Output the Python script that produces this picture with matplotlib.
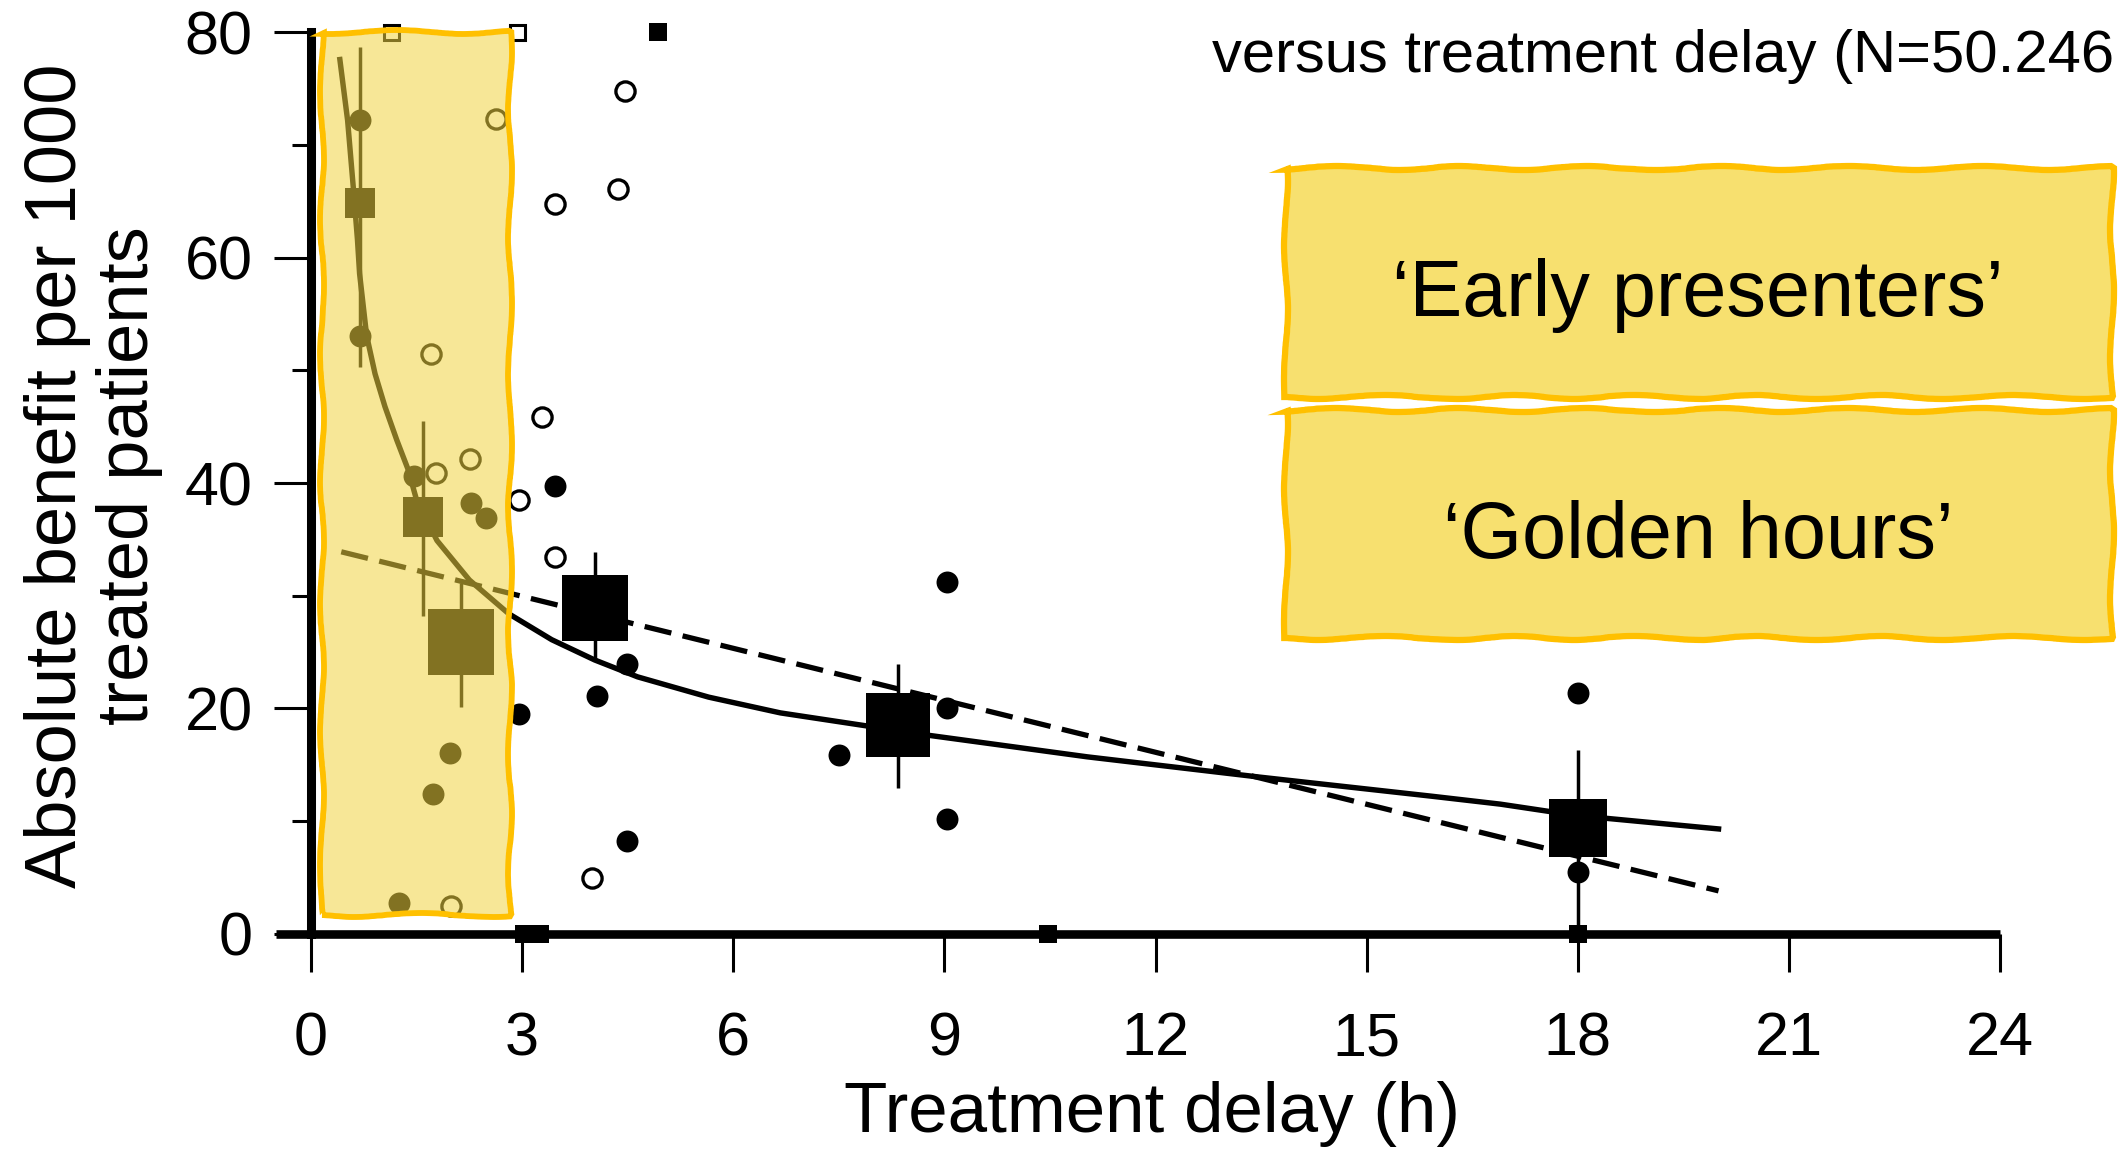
import matplotlib
matplotlib.use('Agg')
import matplotlib.pyplot as plt
from matplotlib.patches import Rectangle

# ---- values ----
# pooled estimate per delay group (big squares) with their bars
grp_delay = [0.69, 1.59, 2.13, 4.04, 8.34, 18.0]
grp_benefit = [64.9, 37.0, 25.9, 28.9, 18.5, 9.4]
grp_low = [50.3, 28.2, 20.1, 24.2, 12.9, 0.0]
grp_high = [78.7, 45.5, 31.1, 33.9, 23.9, 16.3]

# single trials, filled circles
filled_delay = [0.69, 0.69, 1.46, 2.27, 2.48, 1.98, 1.74, 1.25, 2.96, 3.46,
                4.06, 4.49, 4.49, 7.50, 9.03, 9.03, 9.03, 18.0, 18.0]
filled_benefit = [72.2, 53.1, 40.6, 38.2, 36.9, 16.0, 12.4, 2.7, 19.5, 39.7,
                  21.1, 23.9, 8.2, 15.9, 31.2, 20.0, 10.2, 21.4, 5.5]

# single trials, open circles
open_delay = [2.63, 1.71, 1.78, 2.26, 1.99, 3.46, 4.36, 4.46, 3.28, 2.96, 3.47, 3.99]
open_benefit = [72.3, 51.5, 40.9, 42.1, 2.5, 64.8, 66.1, 74.8, 45.9, 38.5, 33.4, 4.9]

# off-scale trials, small squares on the top and bottom edge
top_open_delay = [1.13, 2.93]
top_open_benefit = [80, 80]
top_filled_delay = [4.93]
top_filled_benefit = [80]
bottom_delay = [3.02, 3.25, 10.47, 18.0]
bottom_benefit = [0, 0, 0, 0]

# fitted curve (solid) and straight regression line (dashed)
fit_delay = [0.41, 0.52, 0.60, 0.66, 0.69, 0.79, 0.91, 1.05, 1.22, 1.38, 1.50,
             1.79, 2.25, 2.81, 3.42, 4.03, 4.64, 5.65, 6.67, 8.79, 11.03,
             13.48, 15.93, 16.90, 17.97, 20.0]
fit_benefit = [77.6, 72.2, 66.3, 61.6, 58.6, 53.1, 49.7, 46.8, 43.8, 41.2, 38.5,
               34.9, 31.4, 28.4, 26.1, 24.3, 22.8, 21.0, 19.6, 17.6, 15.7,
               13.9, 12.2, 11.5, 10.5, 9.3]
line_delay = [0.43, 20.0]
line_benefit = [33.9, 3.8]

x_ticks = [0, 3, 6, 9, 12, 15, 18, 21, 24]
y_ticks = [0, 20, 40, 60, 80]
y_minor = [10, 30, 50, 70]

# no narrow face is installed, so the condensed captions use Liberation Sans
# at a size that gives about the same width
plt.rcParams['font.family'] = ['Liberation Sans', 'DejaVu Sans']

fig = plt.figure(figsize=(21.25, 11.52), dpi=100)
ax = fig.add_axes([0.1298, 0.1895, 0.8114, 0.7823])

# fitted lines
ax.plot(fit_delay, fit_benefit, color='black', lw=3.9, zorder=2, clip_on=False)
ax.plot(line_delay, line_benefit, color='black', lw=3.8, ls=(0, (5.2, 2.2)), zorder=2, clip_on=False)

# error bars + group squares (size grows with group weight)
ax.vlines(grp_delay, grp_low, grp_high, color='black', lw=2.5, zorder=2, clip_on=False)
grp_side = [21, 29.5, 47, 47, 46, 42]
for x, y, s in zip(grp_delay, grp_benefit, grp_side):
    ax.plot(x, y, 's', color='black', ms=s, mew=0, zorder=4, clip_on=False)

# trials
ax.plot(filled_delay, filled_benefit, 'o', color='black', ms=15.8, mew=0, zorder=3, clip_on=False)
ax.plot(open_delay, open_benefit, 'o', mfc='none', mec='black', ms=13.8, mew=2.4, zorder=3, clip_on=False)
ax.plot(top_open_delay, top_open_benefit, 's', mfc='white', mec='black', ms=10.8, mew=2.2, zorder=3, clip_on=False)
ax.plot(top_filled_delay, top_filled_benefit, 's', color='black', ms=13, mew=0, zorder=3, clip_on=False)
ax.plot(bottom_delay, bottom_benefit, 's', color='black', ms=13, mew=0, zorder=3, clip_on=False)

# axes styling
ax.set_xlim(-0.5, 24)
ax.set_ylim(0, 80)
for side in ['top', 'right']:
    ax.spines[side].set_visible(False)
ax.spines['left'].set_position(('data', 0))
ax.spines['left'].set_linewidth(6.5)
ax.spines['bottom'].set_linewidth(6.2)
ax.spines['bottom'].set_capstyle('butt')
ax.set_xticks(x_ticks)
ax.set_yticks(y_ticks)
ax.set_yticks(y_minor, minor=True)
ax.tick_params(which='major', direction='out', length=27, width=2.2, labelsize=44, color='black')
ax.tick_params(axis='x', pad=29)
ax.tick_params(axis='y', pad=15)
ax.tick_params(which='minor', direction='out', length=14, width=2.2)
ax.set_facecolor('none')

ax.set_xlabel('Treatment delay (h)', fontsize=51)
ax.xaxis.set_label_coords(0.508, -0.163)
ax.set_ylabel('Absolute benefit per 1000\ntreated patients', fontsize=52, linespacing=1.1)
ax.yaxis.set_label_coords(-0.0654, 0.508)

# translucent yellow highlight over the first three hours
hl = Rectangle((0.156, 1.66), 2.674, 78.34, facecolor=(241/255, 212/255, 63/255, 0.54),
               edgecolor='#FFC000', lw=4.2, zorder=10, clip_on=False)
hl.set_sketch_params(scale=2, length=160, randomness=3)
ax.add_patch(hl)

# text boxes on the right
for y0 in [0.6554, 0.4459]:
    box = Rectangle((0.6052, y0), 0.3887, 0.1985, transform=fig.transFigure,
                    facecolor='#F7E06F', edgecolor='#FFC000', lw=4.5, zorder=11)
    box.set_sketch_params(scale=2, length=160, randomness=3)
    fig.add_artist(box)

fig.text(0.799, 0.726, '\u2018Early presenters\u2019', fontsize=57,
         ha='center', va='baseline', zorder=12)
fig.text(0.799, 0.5156, '\u2018Golden hours\u2019', fontsize=57,
         ha='center', va='baseline', zorder=12)
fig.text(0.5704, 0.9378, 'versus treatment delay (N=50.246', fontsize=43,
         ha='left', va='baseline')

fig.savefig('out.png', dpi=100)
